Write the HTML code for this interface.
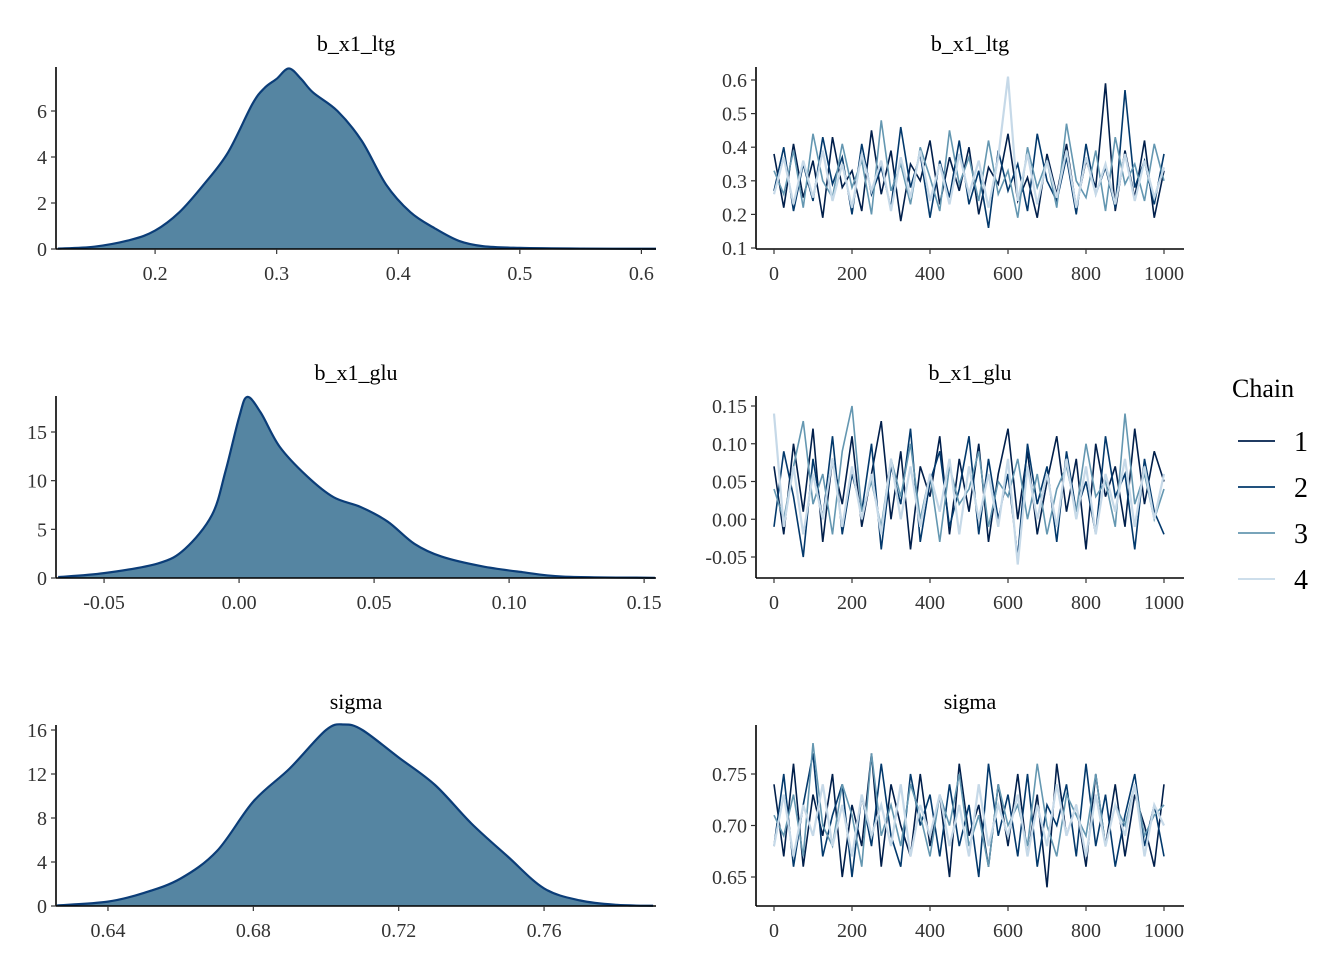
<!DOCTYPE html>
<html><head><meta charset="utf-8"><style>
html,body{margin:0;padding:0;background:#fff;}
svg text{font-family:"Liberation Serif",serif;}
</style></head><body>
<svg id="c" width="1344" height="960" xmlns="http://www.w3.org/2000/svg"></svg>
<script>
// ---- density data ----
const densLtgX=[0.12,0.15,0.18,0.2,0.22,0.24,0.26,0.28,0.29,0.30,0.31,0.32,0.33,0.35,0.37,0.39,0.41,0.43,0.45,0.47,0.5,0.55,0.612];
const densLtgY=[0.02,0.1,0.4,0.8,1.6,2.8,4.2,6.3,7.0,7.4,7.85,7.4,6.8,6.0,4.7,2.8,1.6,0.9,0.35,0.12,0.05,0.02,0.01];
const densGluX=[-0.067,-0.05,-0.03,-0.02,-0.01,-0.005,0,0.003,0.008,0.015,0.025,0.035,0.045,0.055,0.065,0.075,0.09,0.105,0.12,0.154];
const densGluY=[0.1,0.5,1.5,3,6.5,11,16.5,18.6,17,13.5,10.5,8.3,7.3,5.8,3.5,2.2,1.2,0.6,0.15,0.02];
const densSigX=[0.626,0.64,0.65,0.66,0.67,0.68,0.69,0.70,0.705,0.71,0.72,0.73,0.74,0.75,0.76,0.77,0.78,0.79];
const densSigY=[0.05,0.4,1.2,2.5,5,9.5,12.5,16,16.5,16,13.5,11,7.5,4.5,1.6,0.5,0.1,0.02];
// ---- trace data (iteration step 25) ----
const iters=[];for(let i=0;i<=40;i++)iters.push(i*25);
const ltg1=[0.38,0.22,0.41,0.25,0.36,0.19,0.43,0.28,0.33,0.21,0.45,0.26,0.39,0.18,0.35,0.30,0.42,0.23,0.37,0.27,0.40,0.20,0.34,0.29,0.44,0.24,0.31,0.19,0.38,0.26,0.41,0.22,0.36,0.28,0.59,0.21,0.39,0.25,0.42,0.19,0.33];
const ltg2=[0.27,0.40,0.21,0.35,0.24,0.43,0.29,0.37,0.20,0.41,0.26,0.34,0.22,0.46,0.28,0.38,0.19,0.36,0.25,0.42,0.23,0.33,0.16,0.39,0.27,0.35,0.21,0.44,0.30,0.24,0.37,0.20,0.41,0.26,0.34,0.22,0.57,0.28,0.36,0.23,0.38];
const ltg3=[0.33,0.26,0.39,0.22,0.44,0.30,0.25,0.41,0.28,0.36,0.20,0.48,0.27,0.35,0.23,0.40,0.31,0.21,0.45,0.29,0.37,0.24,0.42,0.26,0.33,0.19,0.40,0.28,0.36,0.22,0.47,0.30,0.25,0.39,0.21,0.43,0.29,0.35,0.24,0.41,0.30];
const ltg4=[0.26,0.37,0.23,0.36,0.25,0.39,0.24,0.35,0.22,0.38,0.27,0.36,0.21,0.37,0.25,0.39,0.24,0.35,0.23,0.38,0.26,0.36,0.22,0.37,0.61,0.24,0.38,0.23,0.36,0.25,0.39,0.22,0.37,0.26,0.35,0.23,0.38,0.24,0.36,0.25,0.34];
const glu1=[0.07,-0.02,0.10,0.01,0.12,-0.03,0.08,0.02,0.11,-0.01,0.06,0.13,0.00,0.09,-0.04,0.07,0.03,0.11,-0.02,0.08,0.01,0.10,-0.03,0.06,0.12,0.00,0.09,-0.02,0.05,0.11,0.01,0.08,-0.04,0.10,0.03,0.07,-0.01,0.12,0.02,0.09,0.05];
const glu2=[-0.01,0.09,0.03,-0.05,0.08,0.00,0.11,-0.02,0.06,0.01,0.10,-0.04,0.07,0.02,0.12,-0.03,0.05,0.09,-0.01,0.04,0.11,-0.02,0.08,0.00,0.06,-0.05,0.10,0.02,0.07,-0.03,0.09,0.01,0.05,-0.02,0.11,0.03,0.06,-0.04,0.08,0.01,-0.02];
const glu3=[0.04,0.00,0.07,0.13,0.02,0.06,-0.02,0.09,0.15,0.01,0.05,-0.01,0.08,0.03,0.10,0.00,0.06,-0.03,0.07,0.02,0.04,0.09,-0.01,0.05,0.03,0.08,0.00,0.06,-0.02,0.04,0.07,0.01,0.10,0.03,0.05,-0.01,0.14,0.02,0.06,0.00,0.04];
const glu4=[0.14,-0.01,0.07,-0.02,0.06,0.00,0.08,-0.01,0.07,0.00,0.06,-0.02,0.08,0.00,0.07,-0.01,0.06,0.01,0.08,-0.02,0.07,0.00,0.06,-0.01,0.08,-0.06,0.07,0.00,0.06,-0.01,0.08,0.00,0.07,-0.02,0.06,0.01,0.08,-0.01,0.07,0.00,0.06];
const sig1=[0.74,0.67,0.76,0.66,0.73,0.69,0.75,0.65,0.72,0.68,0.77,0.66,0.74,0.70,0.67,0.75,0.68,0.73,0.65,0.76,0.69,0.72,0.66,0.74,0.68,0.75,0.67,0.73,0.64,0.76,0.69,0.72,0.66,0.75,0.68,0.74,0.67,0.73,0.70,0.66,0.74];
const sig2=[0.68,0.75,0.66,0.72,0.77,0.67,0.71,0.74,0.65,0.73,0.68,0.76,0.69,0.66,0.75,0.70,0.73,0.67,0.74,0.68,0.72,0.65,0.76,0.69,0.73,0.67,0.75,0.66,0.72,0.70,0.74,0.67,0.76,0.68,0.73,0.66,0.71,0.75,0.68,0.72,0.67];
const sig3=[0.71,0.69,0.73,0.67,0.78,0.70,0.68,0.74,0.71,0.66,0.77,0.69,0.72,0.68,0.74,0.71,0.67,0.73,0.70,0.75,0.68,0.71,0.66,0.74,0.70,0.72,0.68,0.76,0.70,0.67,0.73,0.71,0.69,0.75,0.68,0.72,0.70,0.74,0.69,0.71,0.72];
const sig4=[0.68,0.73,0.67,0.72,0.69,0.74,0.68,0.72,0.67,0.73,0.69,0.72,0.68,0.74,0.67,0.72,0.69,0.73,0.68,0.72,0.67,0.74,0.68,0.72,0.69,0.73,0.67,0.72,0.68,0.74,0.69,0.72,0.67,0.73,0.68,0.72,0.69,0.74,0.67,0.72,0.70];
const chainLabels=["1","2","3","4"];
const chainColors=["#011f4b","#03396c","#6497b1","#c6d9e8"];

const svg=document.getElementById('c');
const NS="http://www.w3.org/2000/svg";
function mk(tag,attrs,parent){const e=document.createElementNS(NS,tag);for(const k in attrs)e.setAttribute(k,attrs[k]);(parent||svg).appendChild(e);return e;}
function lin(d0,d1,r0,r1){return v=>r0+(v-d0)*(r1-r0)/(d1-d0);}
function smooth(pts){let d=`M${pts[0][0]},${pts[0][1]}`;for(let i=0;i<pts.length-1;i++){const p0=pts[Math.max(0,i-1)],p1=pts[i],p2=pts[i+1],p3=pts[Math.min(pts.length-1,i+2)];d+=` C${p1[0]+(p2[0]-p0[0])/6},${p1[1]+(p2[1]-p0[1])/6} ${p2[0]-(p3[0]-p1[0])/6},${p2[1]-(p3[1]-p1[1])/6} ${p2[0]},${p2[1]}`;}return d;}

function axes(g,x0,x1,yTop,yBot){
  const ya=mk('line',{x1:x0,y1:yTop,x2:x0,y2:yBot,stroke:'#000','stroke-width':1.6},g);
  
  const xa=mk('line',{x1:x0,y1:yBot,x2:x1,y2:yBot,stroke:'#000','stroke-width':1.6},g);
  
}
function ticks(g,xs,xl,X,ys,yl,Y,x0,yBot){
  xs.forEach((v,i)=>{mk('line',{x1:X(v),y1:yBot,x2:X(v),y2:yBot+5,stroke:'#333','stroke-width':1.2},g);
    const t=mk('text',{x:X(v),y:yBot+31,'text-anchor':'middle','font-size':20,fill:'#333'},g);t.textContent=xl[i];
    });
  ys.forEach((v,i)=>{mk('line',{x1:x0-5,y1:Y(v),x2:x0,y2:Y(v),stroke:'#333','stroke-width':1.2},g);
    const t=mk('text',{x:x0-9,y:Y(v)+7,'text-anchor':'end','font-size':20,fill:'#333'},g);t.textContent=yl[i];
    });
}
function title(g,x,y,s){const t=mk('text',{x:x,y:y,'text-anchor':'middle','font-size':22,fill:'#000'},g);t.textContent=s;
  }

function densPanel(name,xs,ys,xd0,xd1,yd,yBot,yTop,yPx,xt,xtl,yt,ytl,ttlY){
  const g=mk('g',{});
  const X=lin(xd0,xd1,56,656),Y=lin(0,yd,yBot,yPx);
  const pts=xs.map((v,i)=>[X(v),Y(ys[i])]);
  const d=smooth(pts);
  const a=mk('path',{d:d+` L${pts[pts.length-1][0]},${yBot} L${pts[0][0]},${yBot} Z`,fill:'#5585a2'},g);
  
  const l=mk('path',{d:d,fill:'none',stroke:'#0b3d78','stroke-width':2.2},g);
  
  axes(g,56,656,yTop,yBot);ticks(g,xt,xtl,X,yt,ytl,Y,56,yBot);title(g,356,ttlY,name);
}
function tracePanel(name,series,yd0,yd1,py0,py1,yTop,yBot,yt,ytl,ttlY){
  const g=mk('g',{});
  const X=lin(0,1000,774,1164),Y=lin(yd0,yd1,py0,py1);
  series.forEach((s,c)=>{const p=mk('polyline',{points:s.map((v,i)=>X(iters[i])+','+Y(v)).join(' '),fill:'none',stroke:chainColors[c],'stroke-width':c===3?2.2:1.6},g);
    });
  axes(g,756,1184,yTop,yBot);
  ticks(g,[0,200,400,600,800,1000],["0","200","400","600","800","1000"],X,yt,ytl,Y,756,yBot);title(g,970,ttlY,name);
}
densPanel('b_x1_ltg',densLtgX,densLtgY,0.1185,0.612,6,249,67,111,[0.2,0.3,0.4,0.5,0.6],["0.2","0.3","0.4","0.5","0.6"],[0,2,4,6],["0","2","4","6"],51);
densPanel('b_x1_glu',densGluX,densGluY,-0.0678,0.1544,15,578,396,432,[-0.05,0,0.05,0.1,0.15],["-0.05","0.00","0.05","0.10","0.15"],[0,5,10,15],["0","5","10","15"],380);
densPanel('sigma',densSigX,densSigY,0.6257,0.7908,16,906,725,730,[0.64,0.68,0.72,0.76],["0.64","0.68","0.72","0.76"],[0,4,8,12,16],["0","4","8","12","16"],709);
tracePanel('b_x1_ltg',[ltg1,ltg2,ltg3,ltg4],0.1,0.6,248,80,67,249,[0.1,0.2,0.3,0.4,0.5,0.6],["0.1","0.2","0.3","0.4","0.5","0.6"],51);
tracePanel('b_x1_glu',[glu1,glu2,glu3,glu4],-0.05,0.15,557,406,396,578,[-0.05,0,0.05,0.1,0.15],["-0.05","0.00","0.05","0.10","0.15"],380);
tracePanel('sigma',[sig1,sig2,sig3,sig4],0.65,0.75,877,774,725,906,[0.65,0.7,0.75],["0.65","0.70","0.75"],709);
// legend
const lg=mk('g',{});
const lt=mk('text',{x:1232,y:397,'font-size':26,fill:'#000'},lg);lt.textContent='Chain';

chainLabels.forEach((c,i)=>{const y=441+i*46;
  const e=mk('g',{},lg);
  mk('line',{x1:1238,y1:y,x2:1275,y2:y,stroke:chainColors[i],'stroke-width':1.8},e);
  const t=mk('text',{x:1294,y:y+10,'font-size':28,fill:'#000'},e);t.textContent=c;});
</script>
</body></html>
